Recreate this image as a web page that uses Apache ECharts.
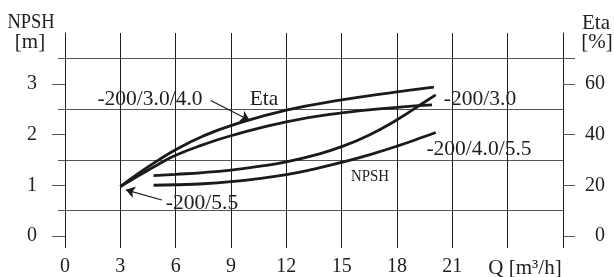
<!DOCTYPE html>
<html>
<head>
<meta charset="utf-8">
<script src="https://cdn.jsdelivr.net/npm/echarts@6/dist/echarts.min.js"></script>
<style>
  html, body { margin: 0; padding: 0; background: #fff; }
  #chart { width: 614px; height: 277px; }
</style>
</head>
<body>
<div id="chart"></div>
<script>
// Q axis ticks [m3/h]
var qTicks = [0, 3, 6, 9, 12, 15, 18, 21];
var npshTicks = [0, 1, 2, 3];
var etaTicks = [0, 20, 40, 60];

// efficiency curves [%]
var qEtaUpper = [3, 4, 5, 6, 7.5, 9, 12, 15, 18, 20];
var etaUpper = [19.5, 24.8, 29.6, 34, 39.4, 43.5, 49.6, 53.6, 56.8, 58.7];
var qEtaLower = [3, 4, 5, 6, 7.5, 9, 12, 15, 18, 19.9];
var etaLower = [19.5, 23.8, 28, 31.8, 36, 39.5, 45, 48.5, 50.7, 51.7];

// NPSH curves [m]
var qNpshUpper = [4.8, 6, 7.5, 9, 10.5, 12, 13.5, 15, 16.5, 18, 19.5, 20.1];
var npshUpper = [1.19, 1.215, 1.25, 1.3, 1.37, 1.46, 1.59, 1.76, 1.99, 2.29, 2.64, 2.78];
var qNpshLower = [4.8, 6, 7.5, 9, 10.5, 12, 13.5, 15, 16.5, 18, 19.5, 20.1];
var npshLower = [1.0, 1.01, 1.03, 1.07, 1.13, 1.21, 1.32, 1.45, 1.6, 1.77, 1.96, 2.04];

function pairs(xs, ys) {
    return xs.map(function (x, i) { return [x, ys[i]]; });
}

var serif = 'Liberation Serif';
var gridColor = '#555';
var vColor = '#1e1e1e';
var curve = { color: '#1a1a1a', width: 2.8 };
var arrowLine = { color: '#1a1a1a', width: 1.2, type: 'solid' };

function label(text, x, y, size, sx) {
    return {
        type: 'text', x: x, y: y, scaleX: sx || 1,
        style: { text: text, font: size + 'px ' + serif, fill: '#1e1e1e', align: 'center', verticalAlign: 'middle' }
    };
}

var chart = echarts.init(document.getElementById('chart'), null, { renderer: 'canvas' });

var option = {
    animation: false,
    backgroundColor: '#fff',
    grid: { left: 65, right: 51, top: 33, bottom: 37 },
    xAxis: {
        type: 'value',
        min: 0,
        max: 27,
        interval: 3,
        axisLine: { show: false },
        axisTick: { show: true, length: 12, lineStyle: { color: vColor } },
        splitLine: { show: true, lineStyle: { color: vColor, width: 1 } },
        axisLabel: {
            customValues: qTicks,
            margin: 21,
            color: '#1e1e1e',
            fontFamily: serif,
            fontSize: 20
        }
    },
    yAxis: [
        {
            type: 'value',
            position: 'left',
            min: 0,
            max: 4,
            interval: 0.5,
            axisLine: { show: true, lineStyle: { color: vColor } },
            axisTick: { show: true, customValues: [0.5, 1.5, 2.5, 3.5], length: 7, lineStyle: { color: gridColor } },
            splitLine: { show: true, lineStyle: { color: gridColor, width: 1 } },
            axisLabel: {
                customValues: npshTicks,
                margin: 28,
                color: '#1e1e1e',
                fontFamily: serif,
                fontSize: 20
            }
        },
        {
            // long ticks on the whole NPSH values
            type: 'value',
            position: 'left',
            min: 0,
            max: 4,
            interval: 1,
            axisLine: { show: false },
            axisTick: { show: true, customValues: [0, 1, 2, 3], length: 13, lineStyle: { color: gridColor } },
            splitLine: { show: false },
            axisLabel: { show: false }
        },
        {
            type: 'value',
            position: 'right',
            min: 0,
            max: 80,
            interval: 10,
            axisLine: { show: true, lineStyle: { color: vColor } },
            axisTick: { show: true, customValues: [0, 20, 40, 60, 70], length: 12, lineStyle: { color: gridColor } },
            splitLine: { show: false },
            axisLabel: {
                customValues: etaTicks,
                align: 'right',
                margin: 42,
                color: '#1e1e1e',
                fontFamily: serif,
                fontSize: 20
            }
        }
    ],
    series: [
        {
            name: 'Eta -200/3.0/4.0',
            type: 'line',
            yAxisIndex: 2,
            smooth: true,
            showSymbol: false,
            silent: true,
            lineStyle: curve,
            data: pairs(qEtaUpper, etaUpper),
            markLine: {
                silent: true,
                symbol: ['none', 'arrow'],
                symbolSize: 9,
                label: { show: false },
                lineStyle: arrowLine,
                data: [[{ coord: [7.9, 53.4] }, { coord: [10.0, 45.6] }]]
            }
        },
        {
            name: 'Eta -200/3.0',
            type: 'line',
            yAxisIndex: 2,
            smooth: true,
            showSymbol: false,
            silent: true,
            lineStyle: curve,
            data: pairs(qEtaLower, etaLower),
            markLine: {
                silent: true,
                symbol: ['none', 'arrow'],
                symbolSize: 9,
                label: { show: false },
                lineStyle: arrowLine,
                data: [[{ coord: [5.25, 14.2] }, { coord: [3.3, 18.2] }]]
            }
        },
        {
            name: 'NPSH -200/3.0',
            type: 'line',
            yAxisIndex: 0,
            smooth: true,
            showSymbol: false,
            silent: true,
            lineStyle: curve,
            data: pairs(qNpshUpper, npshUpper)
        },
        {
            name: 'NPSH -200/4.0/5.5',
            type: 'line',
            yAxisIndex: 0,
            smooth: true,
            showSymbol: false,
            silent: true,
            lineStyle: curve,
            data: pairs(qNpshLower, npshLower)
        }
    ],
    graphic: [
        label('NPSH', 31, 22, 22, 0.84),
        label('[m]', 30, 42, 21),
        label('Eta', 596, 23, 21),
        label('[%]', 597, 42, 21),
        label('Q [m³/h]', 525, 268, 21),
        label('-200/3.0/4.0', 150, 99, 21.5),
        label('Eta', 264, 99, 21.5),
        label('-200/5.5', 202, 203, 21.5),
        label('-200/3.0', 480, 99, 21.5),
        label('-200/4.0/5.5', 479, 149, 21.5),
        label('NPSH', 370, 176, 17.5, 0.85)
    ]
};

chart.setOption(option);
</script>
</body>
</html>
